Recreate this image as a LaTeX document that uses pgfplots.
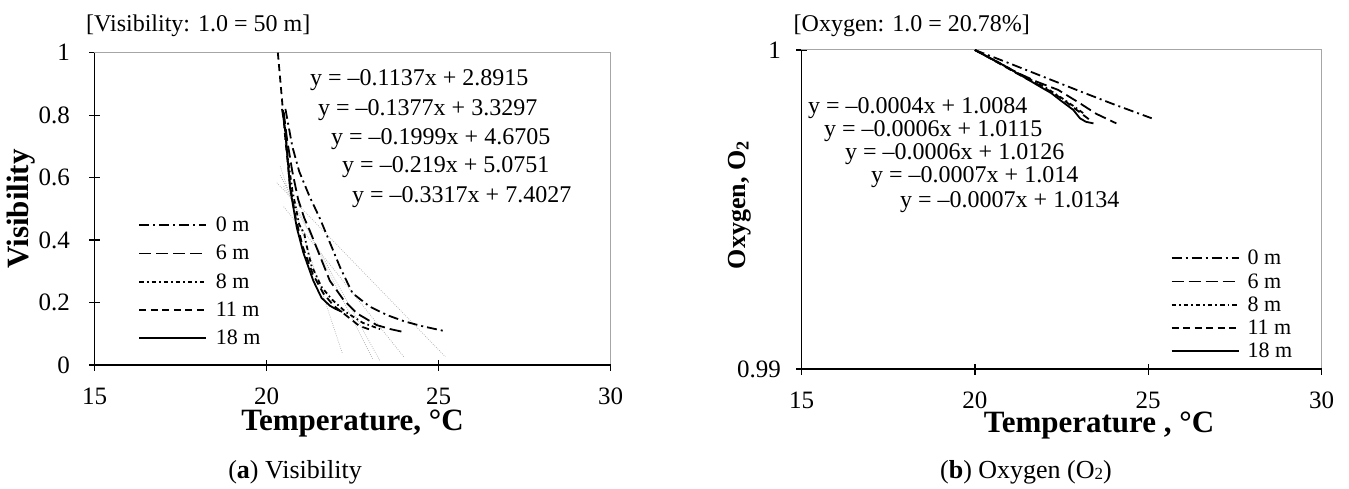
\documentclass[border=0pt]{standalone}
\usepackage{pgfplots}
\pgfplotsset{compat=1.18}
\usepackage{fontspec}
\setmainfont{Liberation Serif}

\newcommand{\fs}[1]{\fontsize{#1}{#1}\selectfont}

\tikzset{eq/.style={anchor=base west, inner sep=0pt, font=\fs{24}}}

\pgfplotsset{
  panel/.style={
    scale only axis,
    anchor=south west,
    xmin=15, xmax=30,
    xtick={15,20,25,30},
    xticklabels={15,20,25,30},
    scaled x ticks=false, scaled y ticks=false,
    axis line style={draw=gray!70, line width=1pt},
    tick align=center,
    xtick pos=left, ytick pos=left,
    major tick length=11pt,
    major tick style={black, line width=1.3pt},
    tick label style={font=\fs{25}},
    /pgf/number format/assume math mode=true,
    xticklabel style={anchor=north, inner sep=0pt},
    yticklabel style={anchor=east, inner sep=0pt},
    xticklabel shift=17pt,
    yticklabel shift=19pt,
    legend cell align=left,
    legend image code/.code={\draw[##1, line width=1.8pt] (0pt,0pt) -- (67pt,0pt);},
    extra description/.code={
      \draw[black, line width=1.6pt] (0,1) -- (0,0) -- (1,0);
    },
  },
  s0/.style={black, line width=1.8pt, dash pattern=on 10pt off 4pt on 2pt off 4pt},
  s6/.style={black, line width=1.8pt, dash pattern=on 12pt off 5pt},
  s8/.style={black, line width=1.8pt, dash pattern=on 4.5pt off 3pt on 1.6pt off 3pt},
  s11/.style={black, line width=1.8pt, dash pattern=on 7pt off 4.5pt},
  s18/.style={black, line width=1.8pt},
  trend/.style={gray!60, line width=0.7pt, dash pattern=on 0.8pt off 1.4pt, forget plot},
}

\begin{document}
\begin{tikzpicture}
\path[use as bounding box] (0,0) rectangle (1349pt,488pt);

% ---------------- (a) visibility ----------------
\begin{axis}[panel,
  at={(94.5pt,123pt)}, width=516pt, height=312.3pt,
  ymin=0, ymax=1,
  ytick={0,0.2,0.4,0.6,0.8,1},
  yticklabels={0,0.2,0.4,0.6,0.8,1},
  legend style={draw=none, fill=none, inner sep=0pt, outer sep=0pt,
    at={(0.0853,0.4736)}, anchor=north west, font=\fs{22},
    nodes={inner sep=0pt},
    row sep=12.2pt,
    /tikz/every odd column/.append style={column sep=8.5pt}},
]
% linear fits
\addplot[trend] coordinates {(20.3,0.5834) (25.2,0.0263)};
\addplot[trend] coordinates {(20.5,0.5069) (24.0,0.0249)};
\addplot[trend] coordinates {(20.5,0.5726) (23.3,0.0128)};
\addplot[trend] coordinates {(20.4,0.6075) (23.1,0.0162)};
\addplot[trend] coordinates {(20.4,0.6360) (22.2,0.0390)};
% measured series
\addplot[s0] coordinates {(20.55,0.82) (20.75,0.70) (20.95,0.62) (21.25,0.54)
  (21.55,0.47) (21.85,0.39) (22.15,0.31) (22.5,0.23) (23.0,0.187) (23.5,0.16)
  (24.0,0.14) (24.5,0.125) (25.2,0.108)};
\addlegendentry{0 m}
\addplot[s6] coordinates {(20.5,0.81) (20.6,0.72) (20.75,0.62) (20.92,0.53)
  (21.1,0.47) (21.26,0.43) (21.55,0.35) (21.84,0.27) (22.23,0.21) (22.62,0.166)
  (23.2,0.128) (23.6,0.115) (24.05,0.104)};
\addlegendentry{6 m}
\addplot[s8] coordinates {(20.5,0.80) (20.6,0.68) (20.75,0.56) (20.95,0.45)
  (21.1,0.42) (21.15,0.39) (21.3,0.32) (21.6,0.25) (21.9,0.21) (22.3,0.17)
  (22.8,0.135) (23.3,0.115)};
\addlegendentry{8 m}
\addplot[s11] coordinates {(20.33,1.0) (20.45,0.85) (20.55,0.72) (20.68,0.58)
  (20.85,0.47) (21.05,0.38) (21.35,0.29) (21.65,0.23) (21.95,0.19) (22.3,0.16)
  (22.7,0.125) (23.1,0.11)};
\addlegendentry{11 m}
\addplot[s18] coordinates {(20.45,0.82) (20.55,0.75) (20.68,0.57) (20.88,0.44)
  (21.07,0.36) (21.36,0.27) (21.6,0.215) (21.84,0.19) (22.0,0.18) (22.2,0.17)};
\addlegendentry{18 m}

\node[eq] at (rel axis cs:0.4176,0.8934) {y = –0.1137x + 2.8915};
\node[eq] at (rel axis cs:0.4331,0.8005) {y = –0.1377x + 3.3297};
\node[eq] at (rel axis cs:0.4583,0.7045) {y = –0.1999x + 4.6705};
\node[eq] at (rel axis cs:0.4797,0.6148) {y = –0.219x + 5.0751};
\node[eq] at (rel axis cs:0.4990,0.5219) {y = –0.3317x + 7.4027};
\end{axis}

% ---------------- (b) oxygen ----------------
\begin{axis}[panel,
  at={(801.6pt,119pt)}, width=519.9pt, height=319pt,
  ymin=0.99, ymax=1,
  ytick={0.99,1},
  yticklabels={0.99,1},
  yticklabel shift=15pt,
  legend style={draw=none, fill=none, inner sep=0pt, outer sep=0pt,
    at={(0.710,0.3727)}, anchor=north west, font=\fs{22},
    nodes={inner sep=0pt},
    row sep=7.2pt,
    /tikz/every odd column/.append style={column sep=8pt}},
]
\addplot[s0] coordinates {(20.0,1.0) (21.0,0.99958) (22.0,0.99915) (23.0,0.99872)
  (24.0,0.99830) (25.1,0.99786)};
\addlegendentry{0 m}
\addplot[s6] coordinates {(20.0,1.0) (20.6,0.99965) (21.2,0.99930) (21.8,0.99900)
  (22.4,0.99875) (23.0,0.99835) (23.5,0.99800) (24.08,0.99770)};
\addlegendentry{6 m}
\addplot[s8] coordinates {(20.0,1.0) (20.7,0.99960) (21.4,0.99918) (22.0,0.99885)
  (22.5,0.99850) (22.9,0.99820) (23.15,0.99800)};
\addlegendentry{8 m}
\addplot[s11] coordinates {(20.0,1.0) (20.7,0.99958) (21.4,0.99915) (22.0,0.99882)
  (22.5,0.99848) (22.9,0.99815) (23.3,0.99782)};
\addlegendentry{11 m}
\addplot[s18] coordinates {(20.0,1.0) (20.73,0.99958) (21.4,0.99916) (21.88,0.99885)
  (22.2,0.99865) (22.46,0.99843) (22.84,0.99812) (23.03,0.99786) (23.2,0.99775)
  (23.42,0.99770)};
\addlegendentry{18 m}

\node[eq] at (rel axis cs:0.0123,0.8025) {y = –0.0004x + 1.0084};
\node[eq] at (rel axis cs:0.0431,0.7273) {y = –0.0006x + 1.0115};
\node[eq] at (rel axis cs:0.0835,0.6552) {y = –0.0006x + 1.0126};
\node[eq] at (rel axis cs:0.1335,0.5831) {y = –0.0007x + 1.014};
\node[eq] at (rel axis cs:0.1893,0.5078) {y = –0.0007x + 1.0134};
\end{axis}

% headers, axis titles and captions
\node[anchor=base west, inner sep=0pt, font=\fs{24}] at (86pt,456pt) {[Visibility: 1.0 = 50 m]};
\node[anchor=base west, inner sep=0pt, font=\fs{24}] at (793.5pt,456pt) {[Oxygen: 1.0 = 20.78\%]};

\node[anchor=base, inner sep=0pt, font=\fs{31}\bfseries] at (352.5pt,58pt) {Temperature, °C};
\node[anchor=base, inner sep=0pt, font=\fs{31}\bfseries] at (1099pt,56pt) {Temperature , °C};

\node[anchor=base, inner sep=0pt, rotate=90, font=\fs{31}\bfseries] at (28pt,279pt) {Visibility};
\node[anchor=base, inner sep=0pt, rotate=90, font=\fs{26}\bfseries] at (745pt,283pt) {Oxygen, O\textsubscript{2}};

\node[anchor=base, inner sep=0pt, font=\fs{26}] at (295pt,10pt) {(\textbf{a}) Visibility};
\node[anchor=base, inner sep=0pt, font=\fs{26}] at (1026pt,10pt) {(\textbf{b}) Oxygen (O\raisebox{-1pt}{\fs{17}2})};
\end{tikzpicture}
\end{document}
